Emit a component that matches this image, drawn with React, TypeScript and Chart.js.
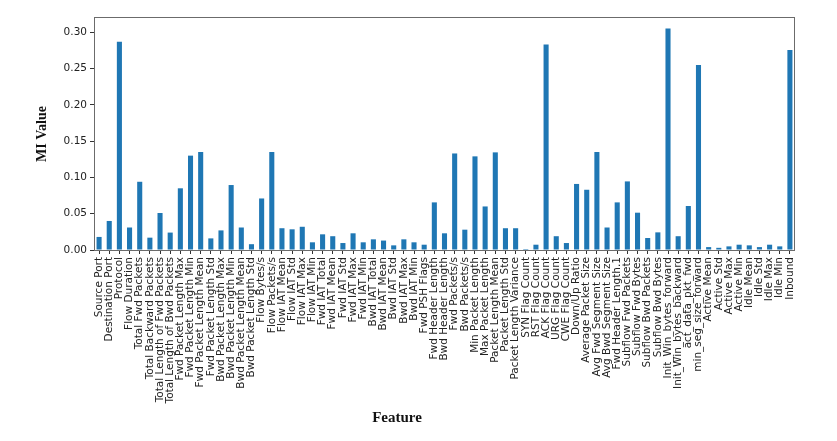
import React, { useEffect, useRef } from "react";
import { Chart, registerables } from "chart.js";

Chart.register(...registerables);

const features: string[] = [
  "Source Port", "Destination Port", "Protocol", "Flow Duration", "Total Fwd Packets",
  "Total Backward Packets", "Total Length of Fwd Packets", "Total Length of Bwd Packets",
  "Fwd Packet Length Max", "Fwd Packet Length Min", "Fwd Packet Length Mean", "Fwd Packet Length Std",
  "Bwd Packet Length Max", "Bwd Packet Length Min", "Bwd Packet Length Mean", "Bwd Packet Length Std",
  "Flow Bytes/s", "Flow Packets/s", "Flow IAT Mean", "Flow IAT Std", "Flow IAT Max", "Flow IAT Min",
  "Fwd IAT Total", "Fwd IAT Mean", "Fwd IAT Std", "Fwd IAT Max", "Fwd IAT Min",
  "Bwd IAT Total", "Bwd IAT Mean", "Bwd IAT Std", "Bwd IAT Max", "Bwd IAT Min",
  "Fwd PSH Flags", "Fwd Header Length", "Bwd Header Length", "Fwd Packets/s", "Bwd Packets/s",
  "Min Packet Length", "Max Packet Length", "Packet Length Mean", "Packet Length Std",
  "Packet Length Variance", "SYN Flag Count", "RST Flag Count", "ACK Flag Count", "URG Flag Count",
  "CWE Flag Count", "Down/Up Ratio", "Average Packet Size", "Avg Fwd Segment Size",
  "Avg Bwd Segment Size", "Fwd Header Length.1", "Subflow Fwd Packets", "Subflow Fwd Bytes",
  "Subflow Bwd Packets", "Subflow Bwd Bytes", "Init_Win_bytes_forward", "Init_Win_bytes_backward",
  "act_data_pkt_fwd", "min_seg_size_forward", "Active Mean", "Active Std", "Active Max",
  "Active Min", "Idle Mean", "Idle Std", "Idle Max", "Idle Min", "Inbound",
];

const miValues: number[] = [
  0.018, 0.040, 0.287, 0.031, 0.094, 0.017, 0.051, 0.024,
  0.085, 0.130, 0.135, 0.016,
  0.027, 0.0895, 0.031, 0.008,
  0.071, 0.135, 0.030, 0.0285, 0.032, 0.0106,
  0.0216, 0.019, 0.0096, 0.023, 0.0106,
  0.0147, 0.013, 0.0064, 0.0147, 0.0106,
  0.0073, 0.0656, 0.023, 0.133, 0.028,
  0.129, 0.060, 0.1345, 0.030,
  0.030, 0.0014, 0.0073, 0.283, 0.019,
  0.0096, 0.091, 0.083, 0.135,
  0.031, 0.0656, 0.0945, 0.0514,
  0.0165, 0.0243, 0.305, 0.019,
  0.0606, 0.255, 0.004, 0.003, 0.005,
  0.0073, 0.0064, 0.004, 0.0073, 0.005, 0.2755,
];

const yTicks: number[] = [0, 0.05, 0.1, 0.15, 0.2, 0.25, 0.3];
const xTitle = "Feature";
const yTitle = "MI Value";

const framePlugin = {
  id: "framePlugin",
  afterDraw(chart: any) {
    const { ctx, chartArea } = chart;
    ctx.save();
    ctx.strokeStyle = "#6b6b6b";
    ctx.lineWidth = 1;
    ctx.strokeRect(
      Math.round(chartArea.left) + 0.5,
      Math.round(chartArea.top) + 0.5,
      Math.round(chartArea.right - chartArea.left) - 1,
      Math.round(chartArea.bottom - chartArea.top)
    );
    ctx.fillStyle = "#111";
    ctx.font = "bold 15px 'Liberation Serif', serif";
    ctx.textAlign = "center";
    ctx.textBaseline = "middle";
    ctx.fillText(xTitle, 397, 418);
    ctx.translate(42, 134);
    ctx.rotate(-Math.PI / 2);
    ctx.font = "bold 14px 'Liberation Serif', serif";
    ctx.fillText(yTitle, 0, 0);
    ctx.restore();
  },
};

export default function App() {
  const canvasRef = useRef<HTMLCanvasElement | null>(null);

  useEffect(() => {
    const canvas = canvasRef.current;
    if (!canvas) return;
    const chart = new Chart(canvas, {
      type: "bar",
      data: {
        labels: features,
        datasets: [
          {
            data: miValues,
            backgroundColor: "#1f77b4",
            borderWidth: 0,
            barPercentage: 0.5,
            categoryPercentage: 1,
          },
        ],
      },
      options: {
        responsive: false,
        animation: false,
        devicePixelRatio: 1,
        layout: { padding: { top: 17, right: 42, left: 0, bottom: 0 } },
        plugins: {
          legend: { display: false },
          tooltip: { enabled: false },
        },
        scales: {
          x: {
            type: "category",
            offset: true,
            grid: {
              drawOnChartArea: false,
              drawTicks: true,
              tickLength: 4,
              color: "#333",
              offset: false,
            },
            border: { display: false },
            ticks: {
              autoSkip: false,
              minRotation: 90,
              maxRotation: 90,
              padding: 3,
              color: "#222",
              font: { family: "'DejaVu Sans', sans-serif", size: 10.5 },
            },
            afterFit(scale: any) {
              scale.height = 441 - 250;
            },
          },
          y: {
            type: "linear",
            min: 0,
            max: 0.321,
            afterBuildTicks(scale: any) {
              scale.ticks = yTicks.map((v) => ({ value: v }));
            },
            grid: {
              drawOnChartArea: false,
              drawTicks: true,
              tickLength: 4,
              color: "#333",
            },
            border: { display: false },
            ticks: {
              padding: 3,
              color: "#222",
              font: { family: "'DejaVu Sans', sans-serif", size: 10.5 },
              callback: (v: any) => Number(v).toFixed(2),
            },
            afterFit(scale: any) {
              scale.width = 94;
            },
          },
        },
      },
      plugins: [framePlugin],
    });
    return () => chart.destroy();
  }, []);

  return (
    <div style={{ position: "fixed", left: 0, top: 0, width: 837, height: 441, background: "#fff" }}>
      <canvas ref={canvasRef} width={837} height={441} />
    </div>
  );
}
